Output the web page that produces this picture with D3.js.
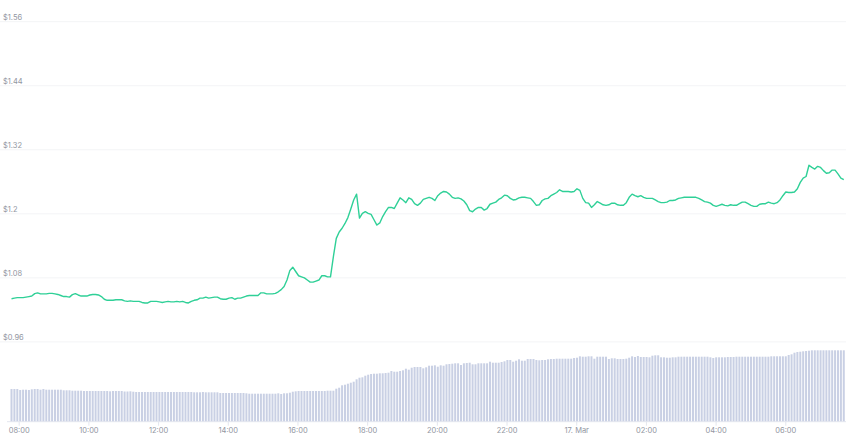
<!DOCTYPE html>
<html>
<head>
<meta charset="utf-8">
<script src="https://cdnjs.cloudflare.com/ajax/libs/d3/7.8.5/d3.min.js"></script>
<style>
    html, body { margin: 0; padding: 0; background: #fff; }
    svg { display: block; }
    text { font-family: Inter, "Open Sans", sans-serif; font-size: 7.5px; fill: #92969f; }
</style>
</head>
<body>
<div id="chart"></div>
<script>
// Values, one sample about every 5 minutes starting 16 Mar 07:47
var prices = [
    1.040, 1.041, 1.042, 1.042, 1.042, 1.043, 1.044, 1.045, 1.0495, 1.051, 1.049, 1.049,
    1.049, 1.050, 1.050, 1.049, 1.048, 1.046, 1.044, 1.044, 1.043, 1.0477, 1.0495, 1.047,
    1.045, 1.045, 1.045, 1.047, 1.048, 1.048, 1.047, 1.044, 1.039, 1.037, 1.037, 1.037,
    1.038, 1.038, 1.038, 1.036, 1.035, 1.036, 1.035, 1.035, 1.035, 1.033, 1.032, 1.032,
    1.035, 1.035, 1.035, 1.034, 1.033, 1.034, 1.035, 1.034, 1.034, 1.035, 1.034, 1.035,
    1.033, 1.032, 1.035, 1.037, 1.038, 1.041, 1.041, 1.043, 1.041, 1.042, 1.043, 1.043,
    1.040, 1.039, 1.039, 1.041, 1.042, 1.039, 1.041, 1.041, 1.043, 1.045, 1.046, 1.046,
    1.046, 1.046, 1.051, 1.051, 1.049, 1.049, 1.049, 1.050, 1.053, 1.057, 1.063, 1.075,
    1.093, 1.099, 1.091, 1.083, 1.081, 1.079, 1.075, 1.071, 1.071, 1.073, 1.075, 1.083,
    1.083, 1.081, 1.081, 1.119, 1.153, 1.165, 1.172, 1.181, 1.192, 1.208, 1.225, 1.236,
    1.191, 1.200, 1.203, 1.200, 1.198, 1.188, 1.178, 1.182, 1.194, 1.203, 1.211, 1.211,
    1.209, 1.219, 1.229, 1.225, 1.220, 1.229, 1.226, 1.218, 1.215, 1.219, 1.226, 1.228,
    1.230, 1.228, 1.224, 1.233, 1.238, 1.241, 1.240, 1.236, 1.230, 1.228, 1.229, 1.227,
    1.223, 1.216, 1.205, 1.203, 1.208, 1.211, 1.211, 1.206, 1.209, 1.217, 1.219, 1.221,
    1.226, 1.229, 1.234, 1.233, 1.228, 1.225, 1.226, 1.229, 1.230, 1.230, 1.229, 1.228,
    1.222, 1.215, 1.216, 1.224, 1.227, 1.228, 1.233, 1.236, 1.239, 1.244, 1.241, 1.241,
    1.241, 1.240, 1.241, 1.246, 1.243, 1.228, 1.220, 1.219, 1.211, 1.216, 1.222, 1.219,
    1.216, 1.215, 1.216, 1.219, 1.219, 1.216, 1.215, 1.215, 1.220, 1.230, 1.236, 1.233,
    1.231, 1.233, 1.230, 1.228, 1.228, 1.228, 1.225, 1.222, 1.220, 1.220, 1.221, 1.224,
    1.224, 1.225, 1.228, 1.229, 1.230, 1.230, 1.230, 1.230, 1.230, 1.228, 1.225, 1.222,
    1.221, 1.219, 1.215, 1.213, 1.215, 1.217, 1.215, 1.214, 1.216, 1.215, 1.215, 1.218,
    1.221, 1.221, 1.218, 1.215, 1.213, 1.213, 1.217, 1.218, 1.218, 1.221, 1.219, 1.218,
    1.220, 1.225, 1.233, 1.240, 1.239, 1.239, 1.240, 1.246, 1.258, 1.266, 1.269, 1.290,
    1.286, 1.283, 1.288, 1.286, 1.280, 1.275, 1.276, 1.281, 1.281, 1.274, 1.266, 1.263
];

// Volume in the same steps (arbitrary units, only the shape can be read)
var volumes = [
    32.7, 32.7, 32.7, 31.7, 32.0, 32.0, 31.7, 32.4, 32.7, 32.7, 32.0, 32.7,
    32.0, 32.0, 32.0, 32.0, 32.0, 32.0, 31.4, 31.4, 31.4, 31.0, 31.0, 31.0,
    31.0, 30.7, 30.7, 30.7, 30.7, 30.7, 30.7, 30.7, 30.7, 30.7, 30.4, 30.7,
    30.7, 30.7, 30.7, 30.2, 30.2, 30.4, 30.0, 29.7, 29.7, 29.7, 29.7, 29.7,
    29.7, 29.7, 29.7, 29.7, 29.7, 29.7, 29.7, 29.7, 29.7, 29.7, 29.7, 29.7,
    29.7, 29.7, 29.7, 29.4, 29.4, 29.4, 29.7, 29.4, 29.4, 29.4, 29.4, 29.4,
    28.7, 28.7, 28.7, 28.7, 28.7, 28.7, 28.7, 28.7, 28.7, 28.4, 28.0, 28.0,
    28.0, 28.0, 28.0, 28.0, 28.0, 28.0, 28.0, 28.0, 28.4, 27.7, 28.4, 28.4,
    29.0, 30.0, 30.4, 30.7, 30.7, 30.7, 30.7, 30.7, 30.7, 30.7, 30.7, 30.7,
    30.7, 31.0, 31.0, 31.0, 33.0, 34.0, 36.4, 37.0, 38.0, 39.0, 40.0, 42.4,
    44.0, 44.4, 46.0, 47.0, 47.7, 48.0, 48.0, 48.4, 48.4, 48.7, 49.0, 50.7,
    50.0, 50.0, 50.7, 51.4, 53.0, 52.0, 54.0, 54.7, 54.7, 54.7, 53.4, 54.4,
    56.0, 56.0, 56.4, 55.0, 56.4, 56.0, 57.4, 57.7, 58.0, 58.4, 58.4, 56.7,
    58.4, 58.7, 59.0, 57.4, 57.4, 58.4, 58.4, 58.4, 58.4, 60.0, 59.0, 59.0,
    59.0, 59.7, 60.4, 61.7, 61.7, 60.0, 61.0, 62.4, 61.0, 61.0, 62.7, 62.7,
    62.7, 61.7, 61.4, 61.7, 61.7, 62.4, 62.7, 62.7, 63.0, 63.0, 63.0, 63.0,
    63.0, 63.0, 63.7, 64.0, 65.4, 65.0, 65.0, 65.4, 65.4, 63.0, 65.0, 65.0,
    65.0, 65.0, 62.7, 63.4, 63.4, 62.7, 62.7, 62.7, 63.0, 64.0, 65.4, 64.7,
    65.7, 64.7, 64.7, 64.7, 64.4, 66.0, 66.4, 66.4, 64.4, 64.4, 64.0, 64.0,
    64.4, 64.4, 65.0, 65.0, 65.0, 65.0, 65.0, 65.0, 65.0, 65.0, 65.0, 65.0,
    65.0, 64.4, 63.7, 64.4, 64.4, 64.4, 64.4, 64.7, 64.7, 64.7, 65.0, 65.0,
    65.0, 65.0, 65.0, 65.0, 65.0, 65.0, 65.0, 65.0, 65.0, 65.0, 65.4, 65.4,
    65.4, 65.4, 65.4, 65.4, 66.7, 67.4, 69.0, 69.7, 70.0, 70.4, 70.7, 71.0,
    71.4, 71.4, 71.4, 71.4, 71.4, 71.4, 71.4, 71.4, 71.4, 71.4, 71.4, 71.4
];

var priceTicks = [0.96, 1.08, 1.2, 1.32, 1.44, 1.56];
var priceLabels = ["$0.96", "$1.08", "$1.2", "$1.32", "$1.44", "$1.56"];

var startTime = new Date(2020, 2, 16, 7, 47, 36);
var stepMs = 299600; // a bit under 5 minutes, fitted so the last bar lands where it does in the picture
var timeTicks = [
    new Date(2020, 2, 16, 8), new Date(2020, 2, 16, 10), new Date(2020, 2, 16, 12),
    new Date(2020, 2, 16, 14), new Date(2020, 2, 16, 16), new Date(2020, 2, 16, 18),
    new Date(2020, 2, 16, 20), new Date(2020, 2, 16, 22), new Date(2020, 2, 17, 0),
    new Date(2020, 2, 17, 2), new Date(2020, 2, 17, 4), new Date(2020, 2, 17, 6)
];
var timeLabels = ["08:00", "10:00", "12:00", "14:00", "16:00", "18:00", "20:00", "22:00", "17. Mar", "02:00", "04:00", "06:00"];

var width = 850;
var height = 443;
var baseline = 421.7;

var svg = d3.select("#chart").append("svg")
    .attr("width", width)
    .attr("height", height);

var timeOf = function(i) { return new Date(startTime.getTime() + i * stepMs); };

// 08:00 sits at x=18.7 and 06:00 the next day at x=785.3
var x = d3.scaleTime()
    .domain([timeTicks[0], timeTicks[11]])
    .range([18.7, 785.3]);

var y = d3.scaleLinear()
    .domain([0.96, 1.56])
    .range([341.4, 21.2]);

var yVolume = d3.scaleLinear()
    .domain([0, 72])
    .range([baseline, baseline - 72]);

// ====================================================================
// Grid lines and price labels

var yAxis = d3.axisRight(y)
    .tickValues(priceTicks)
    .tickSize(846)
    .tickFormat(function(d, i) { return priceLabels[i]; });

var yGroup = svg.append("g").call(yAxis);
yGroup.select(".domain").remove();
yGroup.selectAll("line").attr("stroke", "#f3f4f6").attr("stroke-width", 1);
yGroup.selectAll("text")
    .attr("x", 3)
    .attr("dy", -1.8)
    .attr("text-anchor", "start");

// ====================================================================
// Volume bars

var barWidth = 2;

svg.append("g").selectAll("rect")
    .data(volumes)
    .enter()
    .append("rect")
    .attr("x", function(d, i) { return x(timeOf(i)) - barWidth / 2; })
    .attr("y", function(d) { return yVolume(d); })
    .attr("width", barWidth)
    .attr("height", function(d) { return baseline - yVolume(d); })
    .attr("fill", "#c9d0e4");

// ====================================================================
// Time axis

var xAxis = d3.axisBottom(x)
    .tickValues(timeTicks)
    .tickSize(4)
    .tickPadding(2)
    .tickFormat(function(d, i) { return timeLabels[i]; });

var xGroup = svg.append("g")
    .attr("transform", "translate(0," + baseline + ")")
    .call(xAxis);
xGroup.select(".domain")
    .attr("d", "M7,0H846")
    .attr("stroke", "#e3e6ee");
xGroup.selectAll("line").attr("stroke", "#e3e6ee");

// ====================================================================
// Price line

var line = d3.line()
    .x(function(d, i) { return x(timeOf(i)); })
    .y(function(d) { return y(d); });

svg.append("path")
    .datum(prices)
    .attr("d", line)
    .attr("fill", "none")
    .attr("stroke", "#2fd097")
    .attr("stroke-width", 1.4)
    .attr("stroke-linejoin", "round");
</script>
</body>
</html>
